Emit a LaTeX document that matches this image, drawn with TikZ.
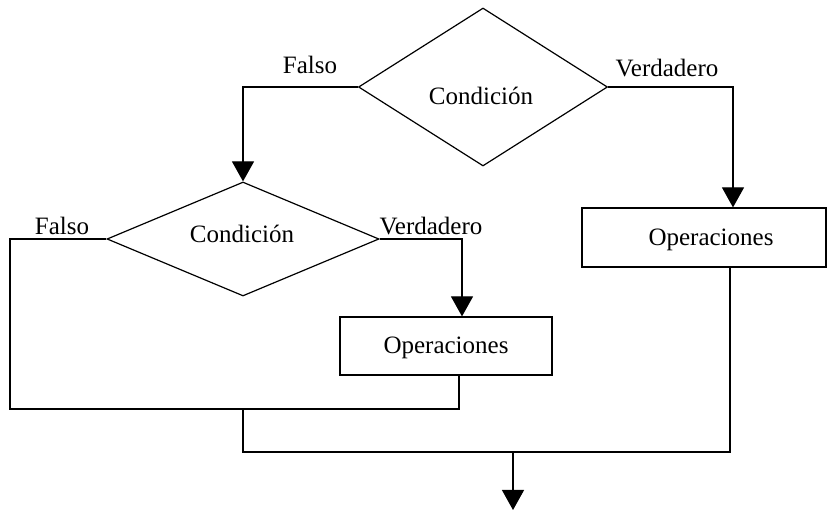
\documentclass[tikz,border=0pt]{standalone}
\usepackage{fontspec}
\setmainfont{Liberation Serif}
\usetikzlibrary{shapes.geometric,arrows.meta}
\begin{document}
\begin{tikzpicture}[x=1pt,y=-1pt,
  line width=1.2pt,
  every node/.style={font=\fontsize{25}{29}\selectfont},
  opbox/.style={draw, rectangle, inner sep=0pt},
  lbl/.style={inner sep=0pt},
  arr/.style={-{Triangle[width=22pt,length=20pt]}}]
\useasboundingbox (0,0) rectangle (828,510);
% decisions
\node[draw, diamond, inner sep=0pt, minimum width=249pt, minimum height=158pt] (d1) at (483,87) {};
\node[lbl] (t1) at (481,96) {Condición};
\node[draw, diamond, inner sep=0pt, minimum width=272pt, minimum height=114pt] (d2) at (243,239) {};
\node[lbl] (t2) at (242,234) {Condición};
% boxes
\node[opbox, minimum width=244pt, minimum height=59pt] (b1) at (704,237.5) {};
\node[lbl] (t3) at (711,240) {Operaciones};
\node[opbox, minimum width=212pt, minimum height=58pt] (b2) at (446,346) {};
\node[lbl] (t4) at (446,348) {Operaciones};
% labels
\node[lbl] (f1) at (310,65) {Falso};
\node[lbl] (v1) at (667,68) {Verdadero};
\node[lbl] (f2) at (62,226) {Falso};
\node[lbl] (v2) at (431,226) {Verdadero};
% helper coordinates
\coordinate (lc) at (10,409);
\coordinate (j1) at (243,409);
\coordinate (m) at (730,452);
\coordinate (j2) at (513,452);
\coordinate (e) at (513,510);
% connectors
\draw[arr] (d1.west) -| (d2.north);
\draw[arr] (d1.east) -| ([xshift=29pt]b1.north);
\draw[arr] (d2.east) -| ([xshift=16pt]b2.north);
\draw (d2.west) -| (lc) -| ([xshift=13pt]b2.south);
\draw (j1) |- (m) -- ([xshift=26pt]b1.south);
\draw[arr] (j2) -- (e);
\end{tikzpicture}
\end{document}
